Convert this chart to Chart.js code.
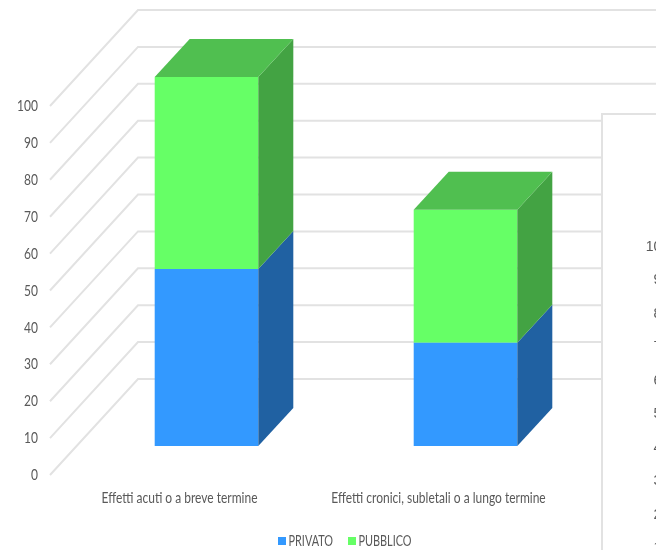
<!DOCTYPE html>
<html lang="it">
  <head>
    <meta charset="UTF-8" />
    <title>Effetti</title>
    <script src="https://cdn.jsdelivr.net/npm/chart.js"></script>
    <style>
      body {
        margin: 0;
        overflow: hidden;
        background-color: #fff;
        height: 550px;
      }

      #main {
        position: absolute;
        left: 0;
        top: 0;
      }

      /* next chart on the page, sits over the right end of the first one */
      #nextChart {
        position: absolute;
        left: 601px;
        top: 113px;
        width: 300px;
        height: 520px;
        background-color: #fff;
        border: 2px solid #e2e2e2;
      }
    </style>
  </head>
  <body>
    <canvas id="main" width="656" height="550"></canvas>
    <div id="nextChart"><canvas id="next" width="300" height="520"></canvas></div>
    <script>
      const categories = [
        "Effetti acuti o a breve termine",
        "Effetti cronici, subletali o a lungo termine",
      ];
      const privato = [48, 28];
      const pubblico = [52, 36];
      const yTicks = [0, 10, 20, 30, 40, 50, 60, 70, 80, 90, 100];

      const LABEL_FONT = "Lato, sans-serif";
      const GRID_COLOR = "#e2e2e2";

      // No condensed font around, so glyphs get squeezed sideways
      const TEXT_SQUEEZE = 0.75;

      // Offsets of the fake 3D: wall behind the floor, bars inside the floor
      const WALL = { dx: 88, dy: 96 };
      const BAR_SHIFT = { dx: 27, dy: 29 };
      const BAR_DEPTH = { dx: 35, dy: 38 };

      function fillPoly(ctx, color, pts) {
        ctx.fillStyle = color;
        ctx.beginPath();
        pts.forEach((p, i) => (i ? ctx.lineTo(p[0], p[1]) : ctx.moveTo(p[0], p[1])));
        ctx.closePath();
        ctx.fill();
      }

      const narrowText = {
        id: "narrowText",
        beforeInit(chart) {
          const ctx = chart.ctx;
          const fillText = ctx.fillText.bind(ctx);
          ctx.fillText = (text, x, y) => {
            ctx.save();
            ctx.translate(x, y);
            ctx.scale(TEXT_SQUEEZE, 1);
            fillText(text, 0, 0);
            ctx.restore();
          };
        },
      };

      const walls3d = {
        id: "walls3d",
        beforeDatasetsDraw(chart) {
          const { ctx, chartArea, scales } = chart;
          const right = chartArea.right + WALL.dx;
          ctx.save();
          ctx.strokeStyle = GRID_COLOR;
          ctx.lineWidth = 2;
          yTicks.forEach((v) => {
            const y = scales.y.getPixelForValue(v);
            ctx.beginPath();
            ctx.moveTo(chartArea.left, y);
            ctx.lineTo(chartArea.left + WALL.dx, y - WALL.dy);
            ctx.lineTo(right, y - WALL.dy);
            ctx.stroke();
          });
          ctx.restore();
          // bars stand part way back on the floor
          ctx.save();
          ctx.translate(BAR_SHIFT.dx, -BAR_SHIFT.dy);
        },
        afterDatasetsDraw(chart) {
          const { ctx } = chart;
          const last = chart.data.datasets.length - 1;
          chart.data.datasets.forEach((ds, i) => {
            chart.getDatasetMeta(i).data.forEach((bar) => {
              const l = bar.x - bar.width / 2;
              const r = bar.x + bar.width / 2;
              const { dx, dy } = BAR_DEPTH;
              fillPoly(ctx, ds.sideColor, [
                [r, bar.y],
                [r + dx, bar.y - dy],
                [r + dx, bar.base - dy],
                [r, bar.base],
              ]);
              if (i === last) {
                fillPoly(ctx, ds.topColor, [
                  [l, bar.y],
                  [l + dx, bar.y - dy],
                  [r + dx, bar.y - dy],
                  [r, bar.y],
                ]);
              }
            });
          });
          ctx.restore();
        },
      };

      // Legend is off centre, so it is drawn here instead of by the legend plugin
      const legendRow = {
        id: "legendRow",
        afterDraw(chart) {
          const { ctx } = chart;
          const starts = [278, 348];
          ctx.save();
          ctx.font = "14.5px " + LABEL_FONT;
          ctx.textBaseline = "middle";
          chart.data.datasets.forEach((ds, i) => {
            ctx.fillStyle = ds.backgroundColor;
            ctx.fillRect(starts[i], 537, 8, 8);
            ctx.fillStyle = "#595959";
            ctx.fillText(ds.label, starts[i] + 10.5, 541.5);
          });
          ctx.restore();
        },
      };

      new Chart(document.getElementById("main").getContext("2d"), {
        type: "bar",
        data: {
          labels: categories,
          datasets: [
            {
              label: "PRIVATO",
              data: privato,
              backgroundColor: "#3399ff",
              sideColor: "#2061a2",
              clip: false,
            },
            {
              label: "PUBBLICO",
              data: pubblico,
              backgroundColor: "#66ff66",
              topColor: "#50bf50",
              sideColor: "#43a343",
              clip: false,
            },
          ],
        },
        options: {
          responsive: false,
          animation: false,
          layout: { padding: { top: 106, right: 88, left: 0, bottom: 0 } },
          plugins: { legend: { display: false }, tooltip: { enabled: false } },
          datasets: { bar: { barPercentage: 1, categoryPercentage: 0.4 } },
          scales: {
            x: {
              stacked: true,
              grid: { display: false, drawTicks: false },
              border: { display: false },
              ticks: {
                color: "#595959",
                font: { family: LABEL_FONT, size: 16 },
                maxRotation: 0,
                autoSkip: false,
                padding: 13,
              },
              afterFit(scale) {
                scale.height = 75;
              },
            },
            y: {
              stacked: true,
              min: 0,
              max: 100,
              grid: { display: false, drawTicks: false },
              border: { display: false },
              ticks: {
                stepSize: 10,
                color: "#595959",
                font: { family: LABEL_FONT, size: 16 },
                padding: 12,
              },
              afterFit(scale) {
                scale.width = 50;
              },
            },
          },
        },
        plugins: [narrowText, walls3d, legendRow],
      });

      // Second chart on the page: only its value axis is in view
      new Chart(document.getElementById("next").getContext("2d"), {
        type: "bar",
        data: { labels: [], datasets: [] },
        options: {
          responsive: false,
          animation: false,
          layout: { padding: { top: 132, bottom: 53 } },
          plugins: { legend: { display: false }, tooltip: { enabled: false } },
          scales: {
            x: { display: false },
            y: {
              min: 0,
              max: 100,
              grid: { display: false, drawTicks: false },
              border: { display: false },
              ticks: {
                stepSize: 10,
                color: "#595959",
                font: { family: '"Liberation Sans", sans-serif', size: 14 },
                padding: 0,
              },
              afterFit(scale) {
                scale.width = 66;
              },
            },
          },
        },
      });
    </script>
  </body>
</html>
